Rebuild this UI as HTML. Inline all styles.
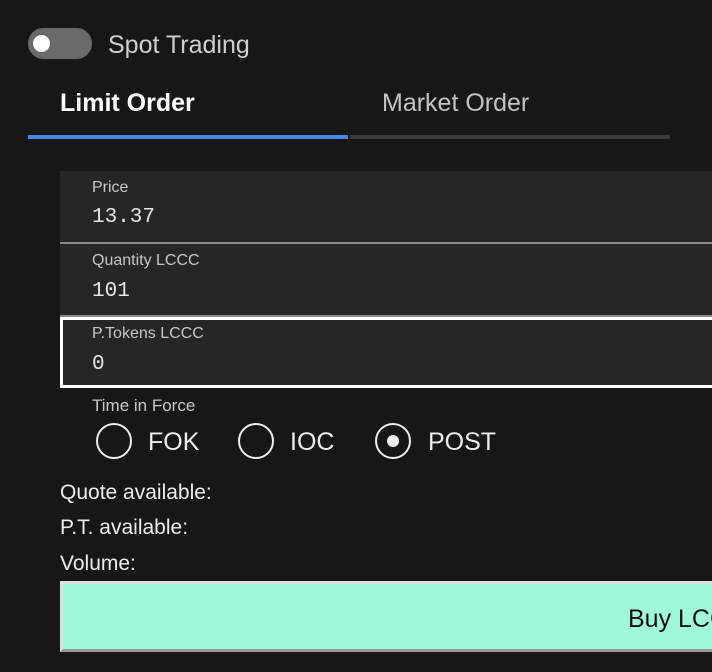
<!DOCTYPE html>
<html><head><meta charset="utf-8"><style>
body{margin:0;width:712px;height:672px;background:#171717;overflow:hidden;font-family:"Liberation Sans",sans-serif;position:relative}
.a{position:absolute;white-space:nowrap}
.fld{position:absolute;left:60px;width:660px;background:#262626}
.lbl{position:absolute;left:32px;font-size:16px;color:#c8c8c8}
.val{position:absolute;left:32px;font-family:"Liberation Mono",monospace;font-size:21px;color:#e6e6e6}
.rad{position:absolute;width:36px;height:36px;border:2px solid #eee;border-radius:50%;box-sizing:border-box}
</style></head><body>
<div class="a" style="left:28px;top:28px;width:64px;height:31px;border-radius:16px;background:#6a6a6a"><div style="position:absolute;left:5px;top:7px;width:17px;height:17px;border-radius:50%;background:#fff"></div></div>
<div class="a" style="left:108px;top:31px;font-size:25px;color:#cfcfcf">Spot Trading</div>
<div class="a" style="left:60px;top:89px;font-size:25px;font-weight:bold;color:#fff">Limit Order</div>
<div class="a" style="left:382px;top:89px;font-size:25px;color:#c4c4c4">Market Order</div>
<div class="a" style="left:28px;top:135px;width:320px;height:4px;background:#4a86e8"></div>
<div class="a" style="left:350px;top:135px;width:320px;height:4px;background:#3a3a3a"></div>
<div class="fld" style="top:171px;height:71px;border-bottom:2px solid #8a8a8a"><div class="lbl" style="top:8px">Price</div><div class="val" style="top:35px">13.37</div></div>
<div class="fld" style="top:244px;height:71px;border-bottom:2px solid #8a8a8a"><div class="lbl" style="top:8px">Quantity LCCC</div><div class="val" style="top:36px">101</div></div>
<div class="fld" style="top:317px;height:65px;border:3px solid #fff;box-sizing:content-box;left:60px"><div class="lbl" style="top:5px;left:29px">P.Tokens LCCC</div><div class="val" style="top:33px;left:29px">0</div></div>
<div class="a" style="left:92px;top:396px;font-size:17px;color:#c8c8c8">Time in Force</div>
<div class="rad" style="left:96px;top:423px"></div>
<div class="a" style="left:148px;top:428px;font-size:25px;color:#eee">FOK</div>
<div class="rad" style="left:238px;top:423px"></div>
<div class="a" style="left:290px;top:428px;font-size:25px;color:#eee">IOC</div>
<div class="rad" style="left:375px;top:423px"><div style="position:absolute;left:10px;top:10px;width:12px;height:12px;border-radius:50%;background:#eee"></div></div>
<div class="a" style="left:428px;top:428px;font-size:25px;color:#eee">POST</div>
<div class="a" style="left:60px;top:481px;font-size:21px;color:#eee">Quote available:</div>
<div class="a" style="left:60px;top:516px;font-size:21px;color:#eee">P.T. available:</div>
<div class="a" style="left:60px;top:552px;font-size:21px;color:#eee">Volume:</div>
<div class="a" style="left:60px;top:581px;width:670px;height:71px;box-sizing:border-box;background:#a0f9d8;border-top:3px solid #dedede;border-left:3px solid #dedede;border-bottom:3px solid #999"><div class="a" style="left:565px;top:21px;font-size:25px;color:#111">Buy LCCC</div></div>
</body></html>
